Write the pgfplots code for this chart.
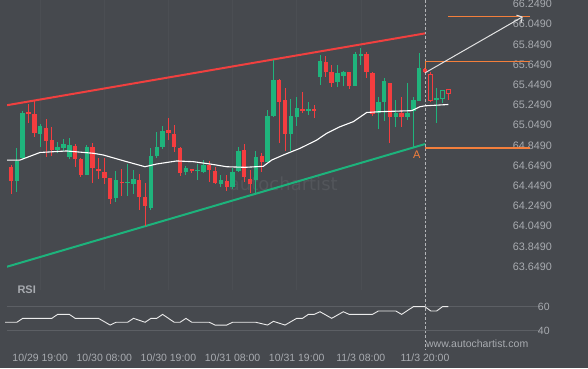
\documentclass[border=0pt]{standalone}
\usepackage{fontspec}
\setmainfont{Liberation Sans}
\newfontfamily\wmfont{DejaVu Sans}
\usepackage{pgfplots}
\usepackage{pgfplotstable}
\pgfplotsset{compat=1.18}
\usetikzlibrary{arrows.meta}
\definecolor{bg}{HTML}{46494E}
\definecolor{cgreen}{HTML}{1FB47C}
\definecolor{cred}{HTML}{F43D3F}
\definecolor{tgreen}{HTML}{1DB37C}
\definecolor{tred}{HTML}{F0403F}
\definecolor{corange}{HTML}{F47F3C}
\definecolor{ctick}{HTML}{A8ABB0}
\definecolor{cgrid}{HTML}{5C5F64}
\definecolor{cfaint}{HTML}{4B4E53}
\definecolor{cwm}{HTML}{53565B}
\definecolor{carrow}{HTML}{E2E2E2}
\definecolor{cdash}{HTML}{B4B6B9}

% candles: index open high low close
\pgfplotstableread{
i o h l c
0 64.648 64.665 64.645 64.662
2 64.497 64.820 64.391 64.698
3 64.721 65.190 64.714 65.173
6 64.965 65.061 64.836 65.041
9 64.806 64.886 64.771 64.836
10 64.823 64.909 64.797 64.863
11 64.737 64.922 64.711 64.850
14 64.559 64.850 64.553 64.836
19 64.326 64.593 64.292 64.506
21 64.482 64.665 64.345 64.489
22 64.472 64.605 64.373 64.516
25 64.226 64.820 64.212 64.744
26 64.744 64.985 64.724 64.836
27 64.830 65.044 64.818 64.992
31 64.589 64.650 64.556 64.623
33 64.595 64.665 64.506 64.608
34 64.591 64.705 64.580 64.655
37 64.466 64.556 64.434 64.510
39 64.440 64.622 64.417 64.589
40 64.599 64.830 64.591 64.794
43 64.506 64.794 64.375 64.737
45 64.688 65.200 64.680 65.140
46 65.140 65.695 65.130 65.497
49 64.959 65.308 64.797 65.140
50 65.133 65.331 65.041 65.216
52 65.200 65.282 65.150 65.209
54 65.529 65.744 65.447 65.688
57 65.480 65.645 65.430 65.563
58 65.539 65.586 65.437 65.579
60 65.440 65.774 65.437 65.754
61 65.739 65.810 65.645 65.749
64 65.170 65.325 65.013 65.282
65 65.277 65.516 65.091 65.490
67 65.133 65.299 65.034 65.173
69 65.133 65.470 65.101 65.173
70 65.193 65.325 64.820 65.299
71 65.289 65.767 65.289 65.612
74 65.299 65.420 65.074 65.315
}\greenc

\pgfplotstableread{
i o h l c
1 64.638 64.655 64.365 64.497
4 65.180 65.256 65.068 65.167
5 65.160 65.299 64.929 64.975
7 65.021 65.110 64.731 64.896
8 64.903 65.028 64.744 64.806
12 64.843 64.863 64.632 64.711
13 64.717 64.724 64.533 64.559
15 64.833 64.870 64.474 64.628
16 64.615 64.721 64.513 64.608
17 64.586 64.721 64.472 64.529
18 64.523 64.531 64.274 64.318
20 64.489 64.615 64.353 64.482
23 64.509 64.561 64.205 64.341
24 64.341 64.482 64.056 64.249
28 65.002 65.117 64.907 64.975
29 64.962 65.056 64.784 64.831
30 64.821 64.838 64.543 64.580
32 64.613 64.620 64.580 64.602
35 64.655 64.697 64.490 64.605
36 64.599 64.638 64.467 64.480
38 64.499 64.556 64.396 64.440
41 64.803 64.863 64.490 64.536
42 64.516 64.605 64.375 64.464
44 64.744 64.777 64.589 64.688
47 65.497 65.506 64.873 65.279
48 65.299 65.422 64.794 64.959
51 65.204 65.381 65.167 65.195
53 65.209 65.249 65.123 65.200
55 65.678 65.734 65.529 65.573
56 65.573 65.645 65.430 65.464
59 65.573 65.576 65.404 65.440
62 65.754 65.774 65.513 65.579
63 65.566 65.576 65.140 65.165
66 65.467 65.470 64.876 65.127
68 65.173 65.325 65.028 65.133
72 65.603 65.612 65.571 65.571
}\redc

\pgfplotstableread{
i o h l c
73 65.553 65.576 65.279 65.292
76 65.404 65.404 65.299 65.365
}\hollowred

\pgfplotstableread{
i o h l c
75 65.315 65.403 65.266 65.391
}\hollowgreen

\pgfplotstableread{
i v
0.20 64.704
2.54 64.704
5.97 64.779
10.55 64.794
15.11 64.771
16.83 64.754
20.84 64.688
23.98 64.638
25.99 64.665
29.42 64.695
32.26 64.688
35.13 64.665
37.99 64.638
41.13 64.632
44.27 64.642
45.71 64.704
47.70 64.754
50.57 64.820
53.43 64.902
55.15 64.969
57.43 65.034
59.71 65.084
62.01 65.175
64.29 65.183
69.73 65.193
71.15 65.232
72.01 65.241
76.00 65.254
}\ma

\pgfplotstableread{
i v
0 47
2 47
3 50.3
8 50.3
9 53.6
11 53.6
12 50.3
16 50.3
18 44.7
19 47
21 47
22 50.3
24 47
25 50.3
26 50.3
27 53.6
29 47
30 47
31 50.3
32 47
35 47
36 44.7
38 44.7
39 47
43 47
45 44.7
46 47.8
48 44.7
50 50.3
51 50.3
52 53.6
53 53.6
54 55.8
56 50.3
58 55.8
59 53.6
63 53.6
64 56.4
67 56.4
68 53.6
70 60
72 60
73 56.4
74 56.4
75 60
76 60
}\rsi

\pgfplotsset{
  wick/.style={draw=none, mark=none, forget plot,
    error bars/.cd, y dir=both, y explicit, error mark=none,
    error bar style={draw=#1, line width=1pt}},
  body/.style 2 args={draw=none, mark=none, forget plot,
    error bars/.cd, y dir=both, y explicit, error mark=none,
    error bar style={draw=#1, line width=#2}},
}

\begin{document}
\begin{tikzpicture}
\fill[bg] (0,0) rectangle (588pt,-368pt);
\useasboundingbox (0,0) rectangle (588pt,-368pt);
\begin{axis}[
  at={(7pt,0pt)}, anchor=north west, scale only axis,
  width=533pt, height=290pt,
  xmin=0.3087, xmax=91.73, ymin=63.4173, ymax=66.2886,
  axis line style={draw=none}, major tick length=0pt,
  xtick={6,17,28,39,50,61,72}, xticklabels={{},{},{},{},{},{},{}},
  xmajorgrids, grid style={color=cfaint, line width=0.6pt},
  ytick={63.649,63.849,64.049,64.249,64.449,64.649,64.849,65.049,65.249,65.449,65.649,65.849,66.049,66.249},
  yticklabels={63.6490,63.8490,64.0490,64.2490,64.4490,64.6490,64.8490,65.0490,65.2490,65.4490,65.6490,65.8490,66.0490,66.2490},
  yticklabel pos=right,
  yticklabel style={anchor=west, xshift=-30.6pt, font=\fontsize{10.8}{12}\selectfont, text=ctick},
]
\node[font=\wmfont\fontsize{18}{20}\selectfont, text=cwm] at (axis cs:47.7,64.467) {autochartist};
% trend lines
\addplot[tred, line width=2pt] coordinates {(0.31,65.247) (72.1,65.959)};
\addplot[tgreen, line width=2pt] coordinates {(0.31,63.648) (72.06,64.863)};
% dashed vertical
\addplot[cdash, line width=0.8pt, dash pattern=on 2.5pt off 2pt] coordinates {(72.1,66.2886) (72.1,63.4173)};
% orange levels
\addplot[corange, line width=1.2pt] coordinates {(76.0,66.128) (90.0,66.128)};
\addplot[corange, line width=1.2pt] coordinates {(72.06,65.575) (72.06,65.682) (90.0,65.682)};
\addplot[corange, line width=1.2pt] coordinates {(72.06,64.823) (90.0,64.823)};
% candles
\addplot[wick=cgreen] table[x=i, y expr={(\thisrow{h}+\thisrow{l})/2}, y error expr={(\thisrow{h}-\thisrow{l})/2}] {\greenc};
\addplot[body={cgreen}{4.4pt}] table[x=i, y expr={(\thisrow{o}+\thisrow{c})/2}, y error expr={max(abs(\thisrow{o}-\thisrow{c})/2,0.006)}] {\greenc};
\addplot[wick=cred] table[x=i, y expr={(\thisrow{h}+\thisrow{l})/2}, y error expr={(\thisrow{h}-\thisrow{l})/2}] {\redc};
\addplot[body={cred}{4.4pt}] table[x=i, y expr={(\thisrow{o}+\thisrow{c})/2}, y error expr={max(abs(\thisrow{o}-\thisrow{c})/2,0.006)}] {\redc};
% hollow candles
\addplot[wick=cred] table[x=i, y expr={(\thisrow{h}+\thisrow{l})/2}, y error expr={(\thisrow{h}-\thisrow{l})/2}] {\hollowred};
\addplot[body={cred}{4.8pt}] table[x=i, y expr={(\thisrow{o}+\thisrow{c})/2}, y error expr={abs(\thisrow{o}-\thisrow{c})/2+0.005}] {\hollowred};
\addplot[body={bg}{2.8pt}] table[x=i, y expr={(\thisrow{o}+\thisrow{c})/2}, y error expr={abs(\thisrow{o}-\thisrow{c})/2-0.005}] {\hollowred};
\addplot[wick=cgreen] table[x=i, y expr={(\thisrow{h}+\thisrow{l})/2}, y error expr={(\thisrow{h}-\thisrow{l})/2}] {\hollowgreen};
\addplot[body={cgreen}{4.8pt}] table[x=i, y expr={(\thisrow{o}+\thisrow{c})/2}, y error expr={abs(\thisrow{o}-\thisrow{c})/2+0.005}] {\hollowgreen};
\addplot[body={bg}{2.8pt}] table[x=i, y expr={(\thisrow{o}+\thisrow{c})/2}, y error expr={abs(\thisrow{o}-\thisrow{c})/2-0.005}] {\hollowgreen};
% moving average
\addplot[white, line width=1.1pt] table[x=i, y=v] {\ma};
% projection arrow
\addplot[carrow, line width=1pt, -{Straight Barb[length=4pt, width=9pt]}] coordinates {(72.06,65.569) (88.77,66.123)};
\node[font=\fontsize{11}{12}\selectfont, text=corange] at (axis cs:70.58,64.754) {A};
\end{axis}

\begin{axis}[
  at={(7pt,-290pt)}, anchor=north west, scale only axis,
  width=533pt, height=60pt, clip=false,
  xmin=0.3087, xmax=91.73, ymin=23.9, ymax=73.9,
  axis line style={draw=none}, major tick length=0pt,
  xtick={6,17,28,39,50,61,72},
  xticklabels={10/29 19:00,10/30 08:00,10/30 19:00,10/31 08:00,10/31 19:00,11/3 08:00,11/3 20:00},
  xticklabel style={font=\fontsize{10.5}{12}\selectfont, text=ctick},
  ytick={40,60}, yticklabels={40,60},
  yticklabel pos=right,
  yticklabel style={anchor=west, xshift=-5.6pt, font=\fontsize{10.5}{12}\selectfont, text=ctick},
  ymajorgrids, grid style={color=cgrid, line width=0.9pt},
]
\addplot[cdash, line width=0.8pt, dash pattern=on 2.5pt off 2pt] coordinates {(72.1,73.9) (72.1,23.9)};
\addplot[white!92!black, line width=0.9pt] table[x=i, y=v] {\rsi};
\node[anchor=west, font=\bfseries\fontsize{11}{12}\selectfont, text=ctick] at (rel axis cs:0.0131,1) {RSI};
\node[anchor=west, font=\fontsize{10.5}{12}\selectfont, text=ctick, inner sep=0pt] at (rel axis cs:0.786,0.1) {www.autochartist.com};
\end{axis}
\end{tikzpicture}
\end{document}
